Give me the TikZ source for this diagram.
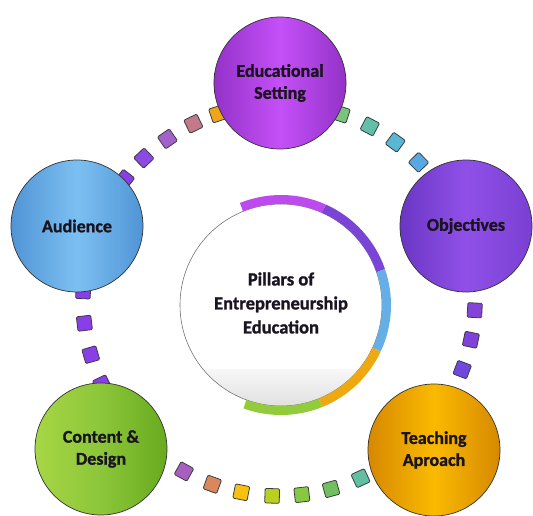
\documentclass[tikz,border=0pt]{standalone}
\usepackage{fontspec}
\setmainfont{Carlito}[BoldFeatures={FakeBold=1.2}]
\usetikzlibrary{calc}
\definecolor{sqborder}{HTML}{3C3C46}
\definecolor{txt}{HTML}{1A1420}
\definecolor{eduE}{HTML}{9432C8}\definecolor{eduM}{HTML}{C450F8}
\definecolor{audE}{HTML}{5094D6}\definecolor{audM}{HTML}{7CC0F2}
\definecolor{objL}{HTML}{6A36C4}\definecolor{objR}{HTML}{7A40D2}\definecolor{objM}{HTML}{9050E8}
\definecolor{conL}{HTML}{A6D644}\definecolor{conR}{HTML}{68AA1E}\definecolor{conM}{HTML}{8CC63A}
\definecolor{teaE}{HTML}{D68800}\definecolor{teaM}{HTML}{FABA00}
\definecolor{r1}{HTML}{BC4AEE}
\definecolor{r2}{HTML}{7A44D6}
\definecolor{r3}{HTML}{66AEE6}
\definecolor{r4}{HTML}{EEA810}
\definecolor{r5}{HTML}{92CC3A}
\tikzset{
  sq/.style={draw=sqborder, line width=0.8pt, rounded corners=1.2pt, minimum size=14.5pt, inner sep=0pt, outer sep=0pt},
  pillar/.style={circle, draw=black!80, line width=0.7pt, minimum size=132pt, inner sep=0pt, outer sep=0pt, text=txt, align=center, font=\bfseries\fontsize{18}{22}\selectfont},
  ringseg/.style={line width=9pt, line cap=butt},
}
\begin{document}
\begin{tikzpicture}[x=1pt,y=1pt]
\useasboundingbox (0,0) rectangle (533,-516);
\fill[white] (0,0) rectangle (533,-516);
\coordinate (sc) at (279,-300);
% ring of squares
\foreach \a/\c [count=\i] in {
  108.2/F0A418, 115.9/C27A88, 124.7/A262CA, 133.6/8C4AE0, 142/8A3EE8,
  71.5/78C47A, 62.4/62C0A8, 53.6/58B8D2, 44.6/58A8E4,
  -3/8444D8, -11.7/8042D8, -20.8/7048DE,
  177.5/8A3EE8, 186.8/8A3EE8, 196.2/8A3EE8, 205.5/8A3EE8,
  -119/A860C0, -109.9/D8885C, -101.1/F8C010, -92/B8D020, -83.3/88C840, -74.6/70C060, -65.4/60C0A0}{
  \definecolor{sqc}{HTML}{\c}
  \node[sq, fill=sqc, rotate=\a] (s\i) at ($(sc)+(\a:196)$) {};
}
% outer circles
\node[pillar, left color=eduE, right color=eduE, middle color=eduM] (edu) at (280,-83) {Educational\\Setting};
\node[pillar, left color=audE, right color=audE, middle color=audM] (aud) at (77,-226) {Audience};
\node[pillar, left color=objL, right color=objR, middle color=objM] (obj) at (466,-226) {Objectives};
\node[pillar, left color=conL, right color=conR, middle color=conM] (con) at (101,-449) {Content \&\\Design};
\node[pillar, left color=teaE, right color=teaE, middle color=teaM] (tea) at (434,-450) {Teaching\\Aproach};
% central circle
\coordinate (cc) at (281,-305);
\fill[white] (cc) circle (101);
\begin{scope}
  \clip (cc) circle (101);
  \shade[top color=black!3, bottom color=black!13] (170,-369) rectangle (392,-410);
\end{scope}
\draw[black!55, line width=0.6pt] (cc) circle (101);
\draw[ringseg, r1] ($(cc)+(112:105.5)$) arc[start angle=112, end angle=66, radius=105.5];
\draw[ringseg, r2] ($(cc)+(66:105.5)$) arc[start angle=66, end angle=19, radius=105.5];
\draw[ringseg, r3] ($(cc)+(19:105.5)$) arc[start angle=19, end angle=-25, radius=105.5];
\draw[ringseg, r4] ($(cc)+(-25:105.5)$) arc[start angle=-25, end angle=-68, radius=105.5];
\draw[ringseg, r5] ($(cc)+(-68:105.5)$) arc[start angle=-68, end angle=-110, radius=105.5];
\node[text=txt, align=center, font=\bfseries\fontsize{18.5}{24}\selectfont] (center) at (281,-303) {Pillars of\\Entrepreneurship\\Education};
\end{tikzpicture}
\end{document}
